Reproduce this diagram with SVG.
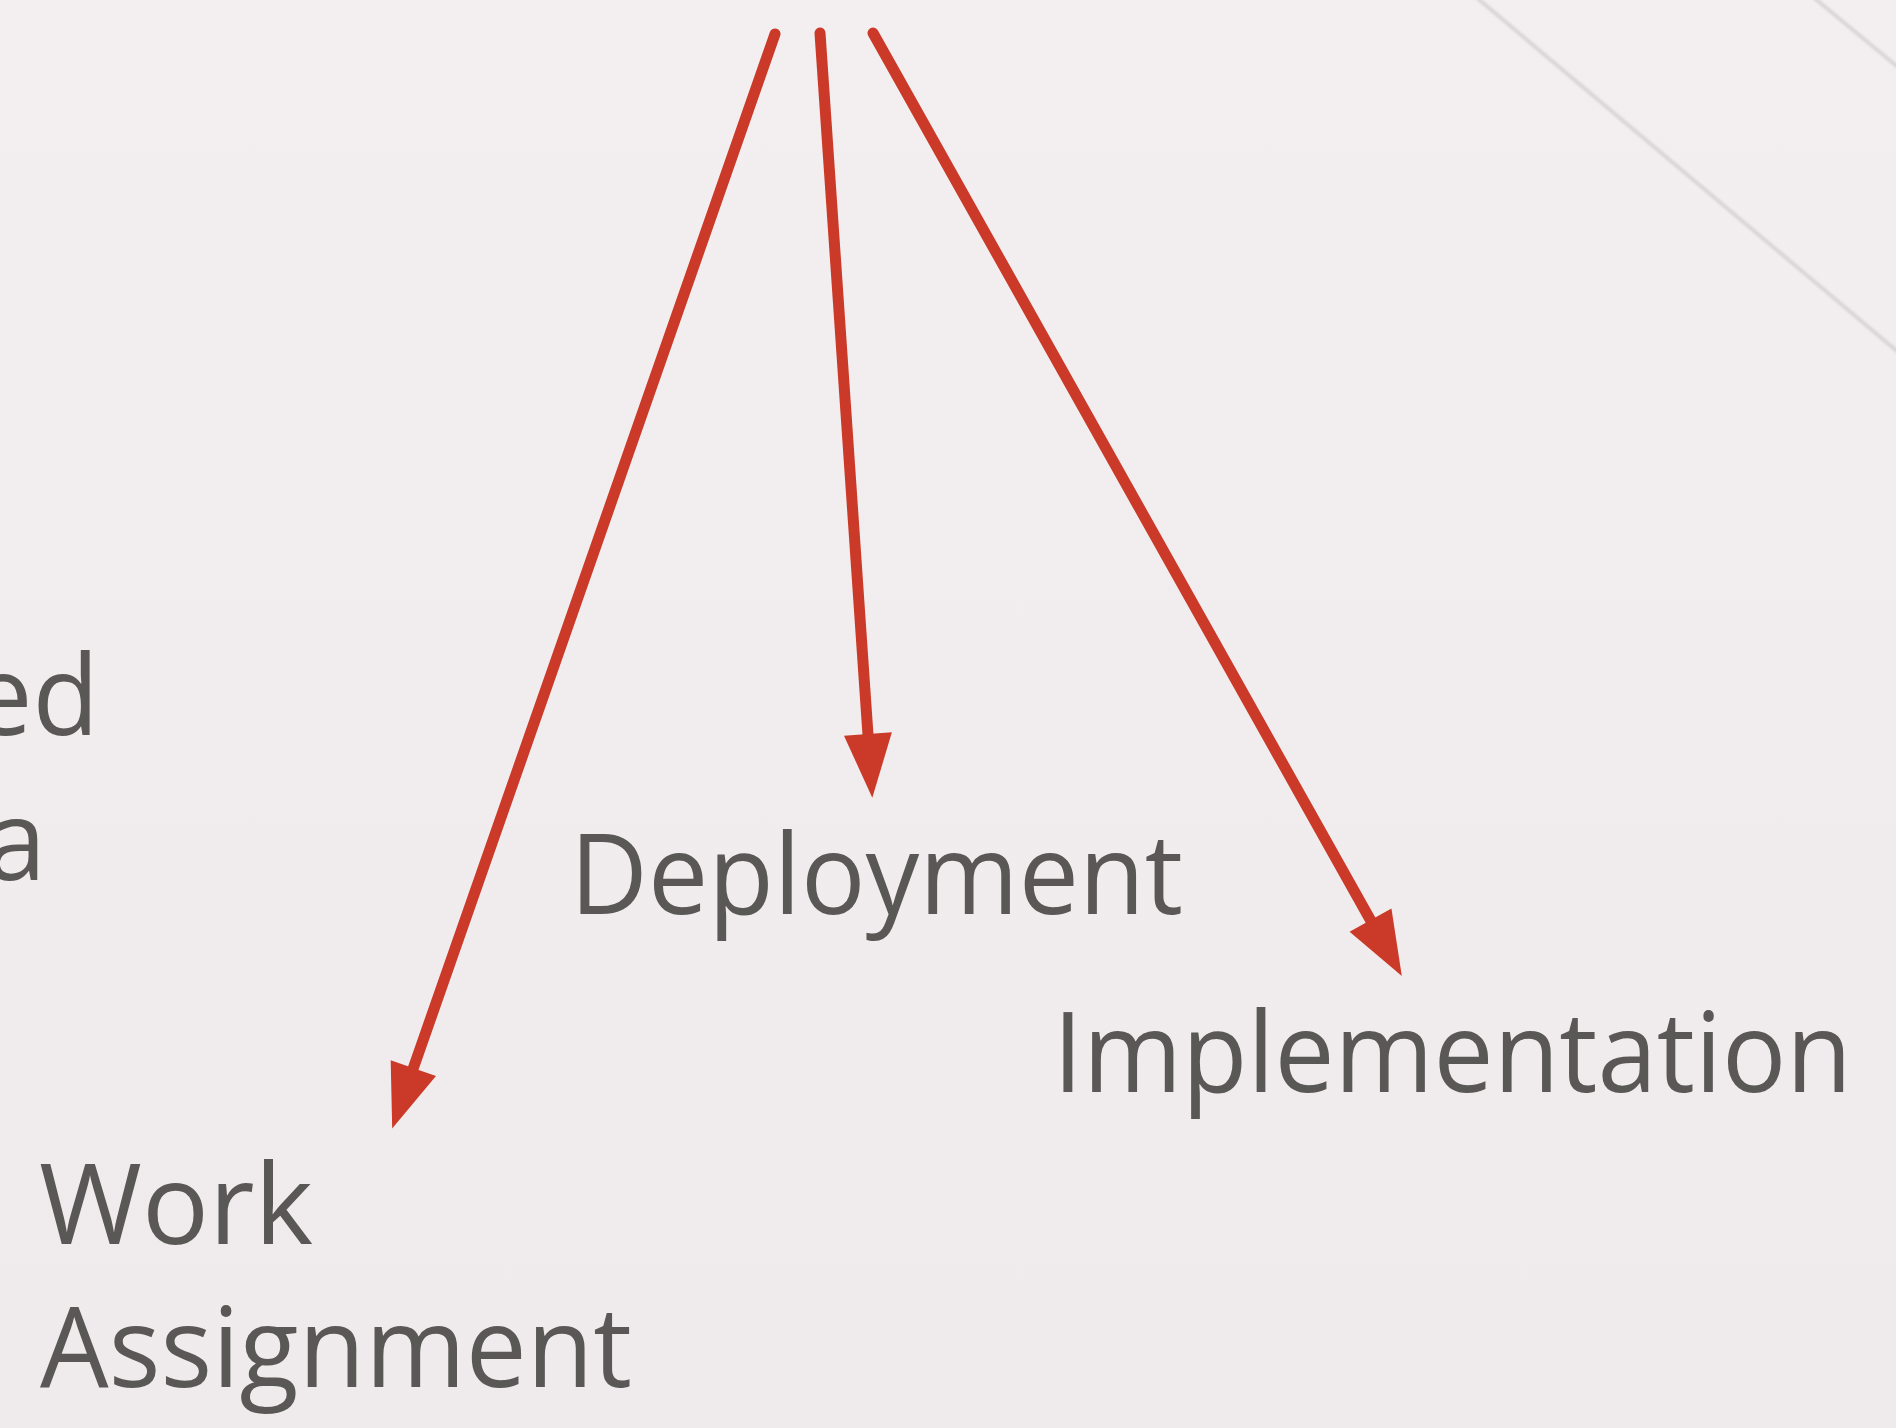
<svg xmlns="http://www.w3.org/2000/svg" width="1896" height="1428" viewBox="0 0 1896 1428">
  <defs>
    <linearGradient id="bg" x1="0" y1="0" x2="0" y2="1">
      <stop offset="0" stop-color="#F3EFF0"/>
      <stop offset="1" stop-color="#EFEBEC"/>
    </linearGradient>
    <filter id="soft" x="-5%" y="-5%" width="110%" height="110%">
      <feGaussianBlur stdDeviation="1.2"/>
    </filter>
    <marker id="head" markerUnits="userSpaceOnUse" markerWidth="68" markerHeight="50" refX="1" refY="24" orient="auto" overflow="visible">
      <path d="M0,0 L64,24 L0,48 Z" fill="#CB3A29"/>
    </marker>
  </defs>
  <style>
    .label { font-family: "Open Sans", "Noto Sans", "Liberation Sans", sans-serif; font-size: 112px; fill: #5A5857; }
    .edge { stroke: #CB3A29; stroke-width: 11; stroke-linecap: round; fill: none; marker-end: url(#head); }
    .guide { stroke: #DAD6D7; stroke-width: 4; fill: none; filter: url(#soft); }
  </style>

  <rect width="1896" height="1428" fill="url(#bg)"/>

  <!-- faint diagonal guides, top right -->
  <g id="guides">
    <line class="guide" x1="1470" y1="-8" x2="1910" y2="362"/>
    <line class="guide" x1="1807" y1="-8" x2="1910" y2="77"/>
  </g>

  <!-- labels running past the left edge -->
  <g id="partial-labels">
    <text class="label" x="99" y="735" text-anchor="end" transform="translate(99 0) scale(0.97 1) translate(-99 0)">ed</text>
    <text class="label" x="46" y="880" text-anchor="end" transform="translate(46 0) scale(0.97 1) translate(-46 0)">a</text>
  </g>

  <g id="node-deployment">
    <text class="label" x="570" y="914" textLength="613" lengthAdjust="spacingAndGlyphs">Deployment</text>
  </g>

  <g id="node-implementation">
    <text class="label" x="1053" y="1092" textLength="799" lengthAdjust="spacingAndGlyphs">Implementation</text>
  </g>

  <g id="node-work-assignment">
    <text class="label" x="39" y="1244" textLength="274" lengthAdjust="spacingAndGlyphs">Work</text>
    <text class="label" x="40" y="1387" textLength="592" lengthAdjust="spacingAndGlyphs">Assignment</text>
  </g>

  <g id="connectors">
    <line class="edge" x1="775" y1="34" x2="413" y2="1069"/>
    <line class="edge" x1="820" y1="33" x2="868" y2="735"/>
    <line class="edge" x1="873" y1="33" x2="1371" y2="921"/>
  </g>
</svg>
